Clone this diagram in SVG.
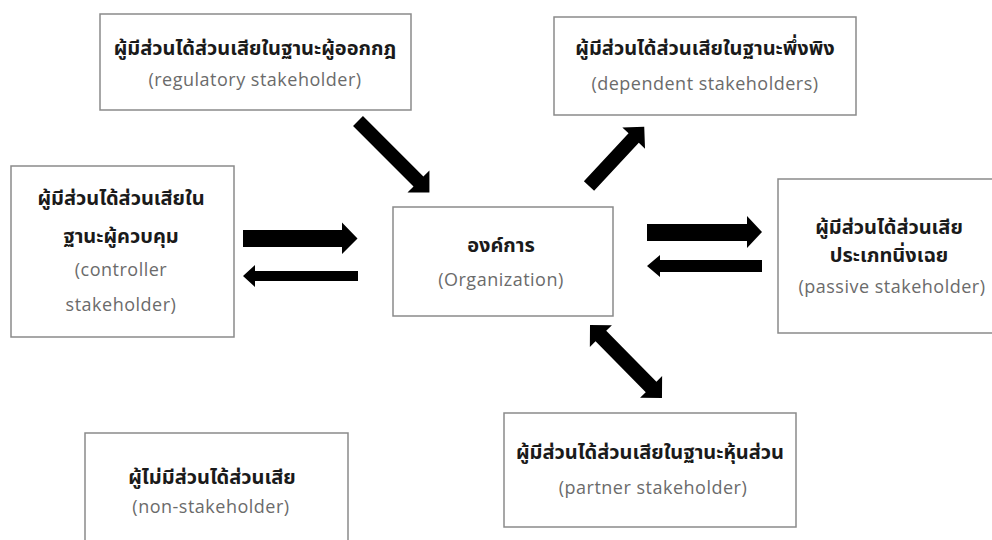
<svg xmlns="http://www.w3.org/2000/svg" width="992" height="540" viewBox="0 0 992 540">
<style>
.box{fill:#ffffff;stroke:#8a8a8a;stroke-width:1.5}
.th{font-family:"Noto Sans Thai","Leelawadee UI","Tahoma","Noto Sans","DejaVu Sans",sans-serif;font-weight:bold;font-size:20px;fill:#1a1a1a;text-anchor:middle}
.en{font-family:"Open Sans","Noto Sans",sans-serif;font-size:18px;letter-spacing:0.5px;fill:#6b6b6b;text-anchor:middle}
.arr{fill:#000000}
</style>
<rect width="992" height="540" fill="#ffffff"/>
<g id="connectors">
  <path class="arr" transform="translate(358,121) rotate(45)" d="M0,-7 L85.5,-7 L85.5,-15.5 L101,0 L85.5,15.5 L85.5,7 L0,7 Z"/>
  <path class="arr" transform="translate(589,186) rotate(-47)" d="M0,-7 L65.5,-7 L65.5,-15.5 L81,0 L65.5,15.5 L65.5,7 L0,7 Z"/>
  <path class="arr" transform="translate(590,325) rotate(45.4)" d="M0,0 L15.5,-15.5 L15.5,-7.5 L87,-7.5 L87,-15.5 L102.5,0 L87,15.5 L87,7.5 L15.5,7.5 L15.5,15.5 Z"/>
  <path class="arr" d="M243,230 L342,230 L342,222.5 L357.5,238.5 L342,254 L342,247 L243,247 Z"/>
  <path class="arr" d="M358,271 L255,271 L255,265 L243,276 L255,287 L255,281 L358,281 Z"/>
  <path class="arr" d="M647,224 L747,224 L747,216 L762,232 L747,248 L747,241 L647,241 Z"/>
  <path class="arr" d="M762,260 L660,260 L660,255 L647,266 L660,277 L660,272 L762,272 Z"/>
</g>
<g id="node-regulatory">
  <rect class="box" x="100" y="14" width="311" height="96"/>
  <text class="th" x="255" y="55">ผู้มีส่วนได้ส่วนเสียในฐานะผู้ออกกฎ</text>
  <text class="en" x="255" y="86">(regulatory stakeholder)</text>
</g>
<g id="node-dependent">
  <rect class="box" x="554" y="17" width="302" height="98"/>
  <text class="th" x="705" y="55">ผู้มีส่วนได้ส่วนเสียในฐานะพึ่งพิง</text>
  <text class="en" x="705" y="90">(dependent stakeholders)</text>
</g>
<g id="node-controller">
  <rect class="box" x="11" y="166" width="223" height="171"/>
  <text class="th" x="121" y="205">ผู้มีส่วนได้ส่วนเสียใน</text>
  <text class="th" x="121" y="243">ฐานะผู้ควบคุม</text>
  <text class="en" x="121" y="276">(controller</text>
  <text class="en" x="121" y="311">stakeholder)</text>
</g>
<g id="node-organization">
  <rect class="box" x="393" y="207" width="220" height="109"/>
  <text class="th" x="501" y="252">องค์การ</text>
  <text class="en" x="501" y="286">(Organization)</text>
</g>
<g id="node-passive">
  <rect class="box" x="778" y="179" width="230" height="154"/>
  <text class="th" x="889" y="234">ผู้มีส่วนได้ส่วนเสีย</text>
  <text class="th" x="889" y="262">ประเภทนิ่งเฉย</text>
  <text class="en" x="892" y="293">(passive stakeholder)</text>
</g>
<g id="node-partner">
  <rect class="box" x="504" y="413" width="292" height="114"/>
  <text class="th" x="650" y="459">ผู้มีส่วนได้ส่วนเสียในฐานะหุ้นส่วน</text>
  <text class="en" x="653" y="494">(partner stakeholder)</text>
</g>
<g id="node-non">
  <rect class="box" x="85" y="433" width="263" height="120"/>
  <text class="th" x="212" y="484">ผู้ไม่มีส่วนได้ส่วนเสีย</text>
  <text class="en" x="211" y="513">(non-stakeholder)</text>
</g>
</svg>
